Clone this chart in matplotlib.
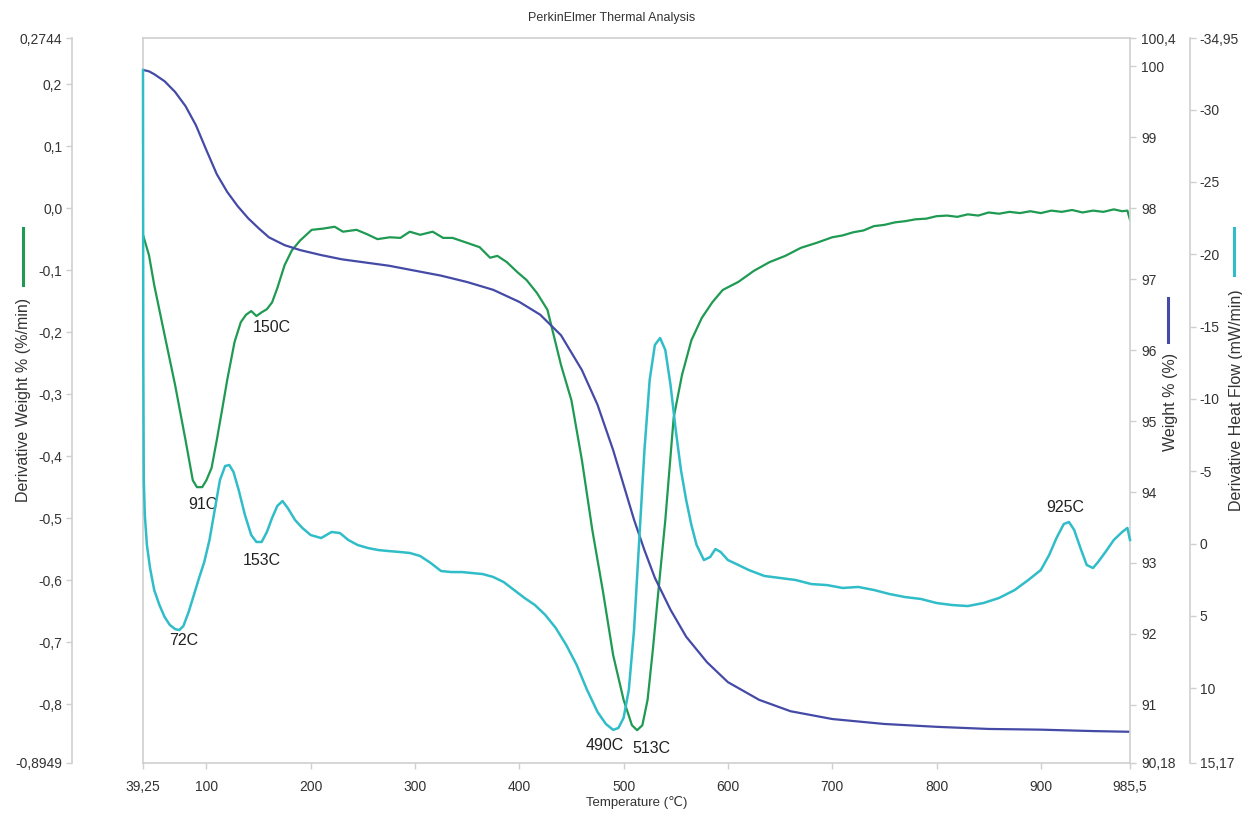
import matplotlib.pyplot as plt
from matplotlib.lines import Line2D

plt.rcParams['font.family'] = ['Liberation Sans', 'DejaVu Sans']

# derivative weight (green, left axis)
dtg_temp = [39.25, 45, 50, 60, 70, 80, 87, 91, 96, 100, 105, 110, 115, 120, 127, 133, 138, 143,
            148, 153, 158, 163, 168, 175, 182, 190, 201, 212, 223, 231, 244, 254, 264, 276, 286,
            295, 305, 317, 327, 336, 350, 362, 372, 379, 388, 398, 407, 417, 427, 440, 450,
            460, 470, 480, 490, 500, 508, 513, 518, 523, 528, 533, 540, 548, 556, 565, 575, 585,
            595, 610, 625, 640, 655, 670, 685, 700, 710, 720, 730, 740, 750, 760, 770, 780, 790,
            800, 810, 820, 830, 840, 850, 860, 870, 880, 890, 900, 910, 920, 930, 940, 950, 960,
            970, 978, 983, 985.5]
dtg = [-0.043, -0.076, -0.124, -0.205, -0.285, -0.374, -0.439, -0.450, -0.450, -0.439, -0.419,
       -0.374, -0.326, -0.277, -0.216, -0.184, -0.172, -0.166, -0.174, -0.168, -0.163, -0.152,
       -0.129, -0.092, -0.068, -0.052, -0.035, -0.033, -0.030, -0.038, -0.035, -0.042, -0.050,
       -0.047, -0.048, -0.038, -0.043, -0.038, -0.048, -0.048, -0.056, -0.063, -0.080, -0.077,
       -0.087, -0.103, -0.116, -0.137, -0.164, -0.253, -0.310, -0.406, -0.519, -0.616,
       -0.721, -0.793, -0.834, -0.842, -0.834, -0.793, -0.713, -0.624, -0.503, -0.338, -0.269,
       -0.213, -0.177, -0.152, -0.132, -0.119, -0.101, -0.087, -0.077, -0.064, -0.056, -0.047,
       -0.044, -0.039, -0.036, -0.029, -0.027, -0.023, -0.021, -0.018, -0.017, -0.013, -0.012,
       -0.014, -0.010, -0.012, -0.007, -0.009, -0.006, -0.008, -0.005, -0.008, -0.004, -0.006,
       -0.003, -0.007, -0.004, -0.006, -0.002, -0.005, -0.004, -0.019]

# weight % (blue, first right axis)
wt_temp = [39.25, 45, 50, 60, 70, 80, 90, 100, 110, 120, 130, 140, 150, 160, 175, 190, 210, 230,
           250, 275, 300, 325, 350, 375, 400, 420, 440, 460, 475, 490, 500, 510, 520, 530, 545,
           560, 580, 600, 630, 660, 700, 750, 800, 850, 900, 950, 985.5]
wt = [99.95, 99.93, 99.89, 99.79, 99.64, 99.44, 99.17, 98.82, 98.48, 98.23, 98.03, 97.86, 97.72,
      97.59, 97.48, 97.41, 97.34, 97.28, 97.24, 97.19, 97.12, 97.05, 96.96, 96.85, 96.68, 96.50,
      96.21, 95.72, 95.23, 94.59, 94.10, 93.61, 93.18, 92.79, 92.34, 91.96, 91.60, 91.32, 91.07,
      90.91, 90.80, 90.73, 90.69, 90.66, 90.65, 90.63, 90.62]

# derivative heat flow (cyan, second right axis, inverted)
hf_temp = [39.25, 39.5, 40, 41, 43, 46, 50, 55, 60, 65, 70, 74, 78, 83, 88, 93, 98, 103, 108, 113,
           118, 122, 126, 131, 137, 143, 148, 153, 158, 163, 168, 173, 178, 185, 192, 200, 210,
           220, 228, 236, 245, 255, 265, 275, 285, 295, 305, 315, 325, 335, 345, 355, 365, 375,
           385, 395, 405, 415, 425, 435, 445, 455, 465, 475, 483, 490, 495, 500, 505, 510, 515,
           520, 525, 530, 535, 540, 545, 550, 555, 560, 565, 570, 577, 583, 588, 593, 600, 610,
           620, 635, 650, 665, 680, 695, 710, 725, 740, 755, 770, 785, 800, 815, 830, 845, 860,
           875, 888, 900, 908, 915, 922, 927, 932, 938, 944, 950, 955, 962, 970, 978, 983, 985.5]
hf = [-32.74, -13.38, -4.39, -1.97, 0.10, 1.69, 3.21, 4.25, 5.08, 5.63, 5.91, 5.98, 5.70, 4.73,
      3.56, 2.38, 1.27, -0.25, -2.32, -4.39, -5.36, -5.43, -4.95, -3.70, -1.97, -0.59, -0.11,
      -0.11, -0.80, -1.77, -2.60, -2.94, -2.46, -1.63, -1.08, -0.59, -0.38, -0.80, -0.73, -0.25,
      0.10, 0.31, 0.45, 0.52, 0.58, 0.65, 0.86, 1.34, 1.90, 1.97, 1.97, 2.04, 2.11, 2.31, 2.66,
      3.21, 3.76, 4.25, 4.94, 5.84, 7.01, 8.39, 10.12, 11.64, 12.47, 12.88, 12.75, 12.05, 10.12,
      5.98, -0.25, -6.47, -11.31, -13.73, -14.21, -13.38, -10.96, -7.85, -5.08, -3.01, -1.28,
      0.10, 1.14, 0.93, 0.38, 0.58, 1.14, 1.48, 1.83, 2.24, 2.38, 2.52, 2.80, 2.87, 3.07, 3.00,
      3.21, 3.49, 3.70, 3.83, 4.11, 4.25, 4.32, 4.11, 3.76, 3.21, 2.52, 1.83, 0.79, -0.38, -1.35,
      -1.49, -0.94, 0.31, 1.48, 1.69, 1.27, 0.58, -0.25, -0.80, -1.08, -0.25]

x_ticks = [39.25, 100, 200, 300, 400, 500, 600, 700, 800, 900, 985.5]
x_labels = ['39,25', '100', '200', '300', '400', '500', '600', '700', '800', '900', '985,5']
dtg_ticks = [0.2744, 0.2, 0.1, 0.0, -0.1, -0.2, -0.3, -0.4, -0.5, -0.6, -0.7, -0.8, -0.8949]
dtg_labels = ['0,2744', '0,2', '0,1', '0,0', '-0,1', '-0,2', '-0,3', '-0,4', '-0,5', '-0,6',
              '-0,7', '-0,8', '-0,8949']
wt_ticks = [100.4, 100, 99, 98, 97, 96, 95, 94, 93, 92, 91, 90.18]
wt_labels = ['100,4', '100', '99', '98', '97', '96', '95', '94', '93', '92', '91', '90,18']
hf_ticks = [-34.95, -30, -25, -20, -15, -10, -5, 0, 5, 10, 15.17]
hf_labels = ['-34,95', '-30', '-25', '-20', '-15', '-10', '-5', '0', '5', '10', '15,17']

# peak labels: (text, temperature, value, axis)
peaks = [('150C', 163, -0.193, 'dtg'), ('91C', 97, -0.478, 'dtg'), ('513C', 527, -0.871, 'dtg'),
         ('72C', 78.6, 6.7, 'hf'), ('153C', 153.3, 1.2, 'hf'), ('490C', 482, 13.95, 'hf'),
         ('925C', 923, -2.5, 'hf')]

GREEN = '#1f9a52'
BLUE = '#444aa6'
CYAN = '#30bdc8'
GRID = '#cfcfcf'
TXT = '#333333'

W, H = 1242, 814
fig = plt.figure(figsize=(W / 100, H / 100), dpi=100)
ax = fig.add_axes([143 / W, 1 - 763 / H, 987 / W, 725 / H])
axW = ax.twinx()
axH = ax.twinx()

ax.set_xlim(39.25, 985.5)
ax.set_ylim(-0.8949, 0.2744)
axW.set_ylim(90.18, 100.4)
axH.set_ylim(15.17, -34.95)

ax.plot(dtg_temp, dtg, color=GREEN, lw=1.6)
axW.plot(wt_temp, wt, color=BLUE, lw=1.6)
axH.plot(hf_temp, hf, color=CYAN, lw=1.8, clip_on=False)

for a in (ax, axW, axH):
    for s in a.spines.values():
        s.set_color(GRID)
        s.set_linewidth(1.2)
    a.tick_params(colors=GRID, labelcolor=TXT, labelsize=10, length=4, width=1)

ax.spines['left'].set_position(('outward', 71 * 0.72))
ax.spines['right'].set_visible(False)
axW.spines['left'].set_visible(True)
axW.spines['bottom'].set_visible(False)
axW.spines['top'].set_visible(False)
for k in ('left', 'top', 'bottom'):
    axH.spines[k].set_visible(False)
axH.spines['right'].set_position(('outward', 60 * 0.72))

ax.set_xticks(x_ticks, x_labels)
ax.tick_params(axis='x', pad=8)
ax.set_yticks(dtg_ticks, dtg_labels)
ax.tick_params(axis='y', pad=3)
axW.set_yticks(wt_ticks, wt_labels)
axW.tick_params(axis='y', pad=4)
axH.set_yticks(hf_ticks, hf_labels)
axH.tick_params(axis='y', pad=3)

ax.set_xlabel('Temperature (\u2103)', fontsize=9.5, color=TXT, labelpad=2)

for txt, t, v, which in peaks:
    a = ax if which == 'dtg' else axH
    a.text(t, v, txt, fontsize=11.5, color='#222222', ha='center', va='center')

fig.text(612 / W, 1 - 18 / H, 'PerkinElmer Thermal Analysis', fontsize=9, color=TXT,
         ha='center', va='center')

# axis titles with line markers
def side_label(x, y, s, color, y0, y1, lx):
    fig.text(x / W, 1 - y / H, s, rotation=90, fontsize=11.5, color=TXT, ha='center', va='center')
    fig.add_artist(Line2D([lx / W, lx / W], [1 - y0 / H, 1 - y1 / H], color=color, lw=2.2))

side_label(24, 400, 'Derivative Weight % (%/min)', GREEN, 228, 285, 23)
side_label(1171, 402, 'Weight % (%)', BLUE, 298, 342, 1168)
side_label(1236, 400, 'Derivative Heat Flow (mW/min)', CYAN, 228, 275, 1234)

fig.savefig('out.png', dpi=100)
